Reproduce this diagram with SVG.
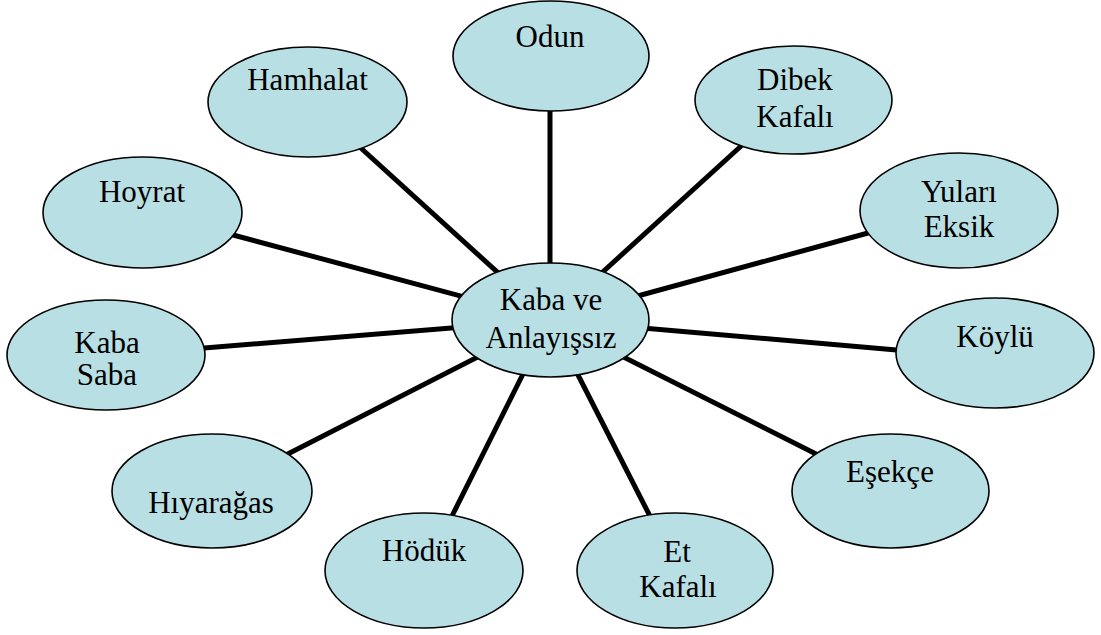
<svg xmlns="http://www.w3.org/2000/svg" width="1101" height="635" viewBox="0 0 1101 635">
<style>
.n{fill:#b8dfe3;stroke:#000;stroke-width:1.6}
.c{stroke:#000;stroke-width:5;fill:none}
text{font-family:"Liberation Serif","Times New Roman",serif;font-size:31px;fill:#000;text-anchor:middle}
</style>
<rect width="1101" height="635" fill="#fff"/>
<g id="connectors">
<line class="c" x1="550" y1="100" x2="550" y2="320"/>
<line class="c" x1="352" y1="140" x2="550" y2="320"/>
<line class="c" x1="751" y1="137" x2="550" y2="320"/>
<line class="c" x1="222" y1="232" x2="550" y2="320"/>
<line class="c" x1="879" y1="230" x2="550" y2="320"/>
<line class="c" x1="192" y1="349" x2="550" y2="320"/>
<line class="c" x1="908" y1="351" x2="550" y2="320"/>
<line class="c" x1="276" y1="460" x2="550" y2="320"/>
<line class="c" x1="826" y1="459" x2="550" y2="320"/>
<line class="c" x1="447" y1="526" x2="550" y2="320"/>
<line class="c" x1="655" y1="526" x2="550" y2="320"/>
</g>
<g id="center"><ellipse class="n" cx="550.5" cy="320" rx="98.5" ry="57"/><text x="551" y="310">Kaba ve</text><text x="551" y="348">Anlayışsız</text></g>
<g id="odun"><ellipse class="n" cx="551" cy="56" rx="98" ry="55"/><text x="550" y="47">Odun</text></g>
<g id="hamhalat"><ellipse class="n" cx="307.5" cy="102" rx="99.5" ry="55"/><text x="307.5" y="90">Hamhalat</text></g>
<g id="dibek"><ellipse class="n" cx="793.5" cy="100" rx="98.5" ry="54"/><text x="795" y="90">Dibek</text><text x="795" y="127">Kafalı</text></g>
<g id="hoyrat"><ellipse class="n" cx="142.5" cy="212.5" rx="99.5" ry="55.5"/><text x="142" y="202">Hoyrat</text></g>
<g id="yulari"><ellipse class="n" cx="959" cy="210.5" rx="99" ry="57.5"/><text x="959" y="202">Yuları</text><text x="959" y="237">Eksik</text></g>
<g id="kabasaba"><ellipse class="n" cx="106" cy="355" rx="99" ry="55"/><text x="107" y="353">Kaba</text><text x="107" y="385">Saba</text></g>
<g id="koylu"><ellipse class="n" cx="995" cy="353" rx="99" ry="55"/><text x="995" y="347">Köylü</text></g>
<g id="hiyaragas"><ellipse class="n" cx="212" cy="491" rx="100" ry="57"/><text x="211" y="513">Hıyarağas</text></g>
<g id="esekce"><ellipse class="n" cx="890.5" cy="491" rx="98.5" ry="57"/><text x="890" y="482">Eşekçe</text></g>
<g id="hoduk"><ellipse class="n" cx="424" cy="570.5" rx="99" ry="57.5"/><text x="424" y="561">Hödük</text></g>
<g id="etkafali"><ellipse class="n" cx="675" cy="570.5" rx="98" ry="57.5"/><text x="677" y="562">Et</text><text x="678" y="597">Kafalı</text></g>
</svg>
